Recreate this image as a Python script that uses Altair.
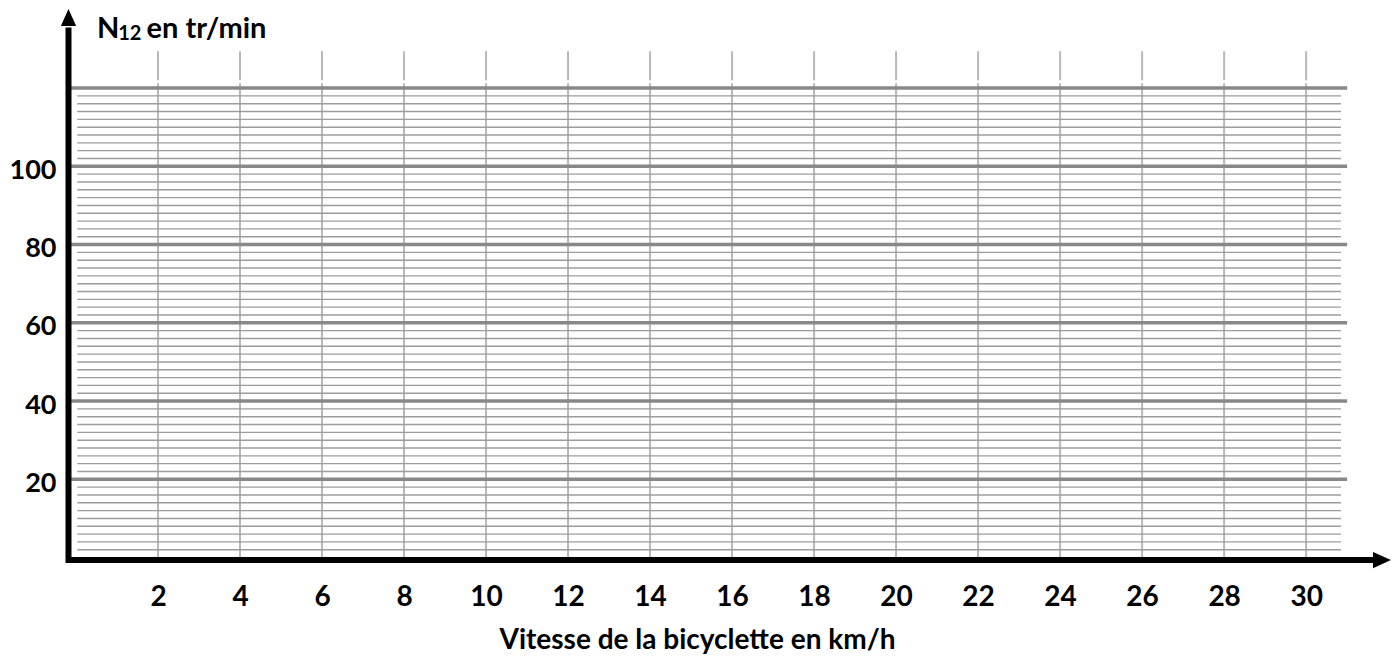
import altair as alt
import pandas as pd

# ---- data ----
X_TICKS = [2, 4, 6, 8, 10, 12, 14, 16, 18, 20, 22, 24, 26, 28, 30]
Y_LABELS = [20, 40, 60, 80, 100]
MAJOR_Y = [20, 40, 60, 80, 100, 120]
MINOR_Y = [v for v in range(2, 120, 2) if v % 20 != 0]

X_TITLE = "Vitesse de la bicyclette en km/h"
Y_TITLE_PARTS = ["N", "12", "en tr/min"]

# extents (data units)
X_DOMAIN = [-0.195, 32.07]
Y_DOMAIN = [-1.39, 140.46]
VGRID_SEGMENTS = [(0, 121.2), (122.0, 129.4)]
MINOR_X_RANGE = (0.03, 30.85)
MAJOR_X_RANGE = (-0.2, 31.0)
Y_AXIS_X = -0.183
X_AXIS_Y = -0.63
Y_AXIS_RANGE = (-1.39, 135.5)
X_AXIS_RANGE = (-0.244, 31.65)
Y_ARROW = (Y_AXIS_X, 138.03)
X_ARROW = (31.85, X_AXIS_Y)
TITLE_POS = [(0.51, 132.7, 29), (1.03, 132.2, 20), (1.72, 132.7, 29)]

FONT = "Lato"

x_scale = alt.Scale(domain=X_DOMAIN, nice=False, zero=False)
y_scale = alt.Scale(domain=Y_DOMAIN, nice=False, zero=False)

x_axis = alt.Axis(values=X_TICKS, format="d", domain=False, ticks=False, grid=False,
                  labelFont=FONT, labelFontWeight="bold", labelFontSize=28,
                  labelColor="black", labelPadding=20, labelFlush=False,
                  labelOverlap=False, labelBound=False,
                  titleFont=FONT, titleFontWeight="bold", titleFontSize=28,
                  titleColor="black", titleX=629, titleY=85,
                  titleBaseline="alphabetic", titleAlign="center")
y_axis = alt.Axis(values=Y_LABELS, format="d", domain=False, ticks=False, grid=False,
                  labelFont=FONT, labelFontWeight="bold", labelFontSize=27,
                  labelColor="black", labelPadding=12, labelBaseline="alphabetic",
                  labelOffset=12, labelOverlap=False, labelBound=False, labelFlush=False)


def X(field="x"):
    return alt.X(f"{field}:Q", scale=x_scale, axis=x_axis, title=X_TITLE)


def Y(field="y"):
    return alt.Y(f"{field}:Q", scale=y_scale, axis=y_axis, title=None)


# vertical grid
vg = pd.DataFrame([{"x": xv, "y": a, "y2": b} for xv in X_TICKS for (a, b) in VGRID_SEGMENTS])
vgrid = alt.Chart(vg).mark_rule(color="#b8b8b8", strokeWidth=2).encode(
    x=X(), y=Y(), y2="y2:Q")

# minor horizontal grid
mg = pd.DataFrame({"y": MINOR_Y, "x": MINOR_X_RANGE[0], "x2": MINOR_X_RANGE[1]})
minor = alt.Chart(mg).mark_rule(color="#9c9c9c", strokeWidth=1.4).encode(
    x=X(), x2="x2:Q", y=Y())

# major horizontal grid
Mg = pd.DataFrame({"y": MAJOR_Y, "x": MAJOR_X_RANGE[0], "x2": MAJOR_X_RANGE[1]})
major = alt.Chart(Mg).mark_rule(color="#888888", strokeWidth=3.6).encode(
    x=X(), x2="x2:Q", y=Y())

# axis lines
ax = pd.DataFrame([
    {"x": Y_AXIS_X, "x2": Y_AXIS_X, "y": Y_AXIS_RANGE[0], "y2": Y_AXIS_RANGE[1]},
    {"x": X_AXIS_RANGE[0], "x2": X_AXIS_RANGE[1], "y": X_AXIS_Y, "y2": X_AXIS_Y},
])
axes = alt.Chart(ax).mark_rule(color="black", strokeWidth=6, strokeCap="butt").encode(
    x=X(), x2="x2:Q", y=Y(), y2="y2:Q")

# arrow heads
ar = pd.DataFrame([
    {"x": Y_ARROW[0], "y": Y_ARROW[1], "shape": "M0,-1L0.9,1L-0.9,1Z", "size": 289},
    {"x": X_ARROW[0], "y": X_ARROW[1], "shape": "M1,0L-1,-0.9L-1,0.9Z", "size": 324},
])
arrows = alt.Chart(ar).mark_point(filled=True, color="black", opacity=1).encode(
    x=X(), y=Y(),
    shape=alt.Shape("shape:N", scale=None),
    size=alt.Size("size:Q", scale=None))

# y title (N with subscript 12)
td = pd.DataFrame([{"x": p[0], "y": p[1], "fs": p[2], "t": t}
                   for p, t in zip(TITLE_POS, Y_TITLE_PARTS)])
ytitle = alt.Chart(td).mark_text(align="left", baseline="alphabetic", font=FONT,
                                 fontWeight="bold", color="black").encode(
    x=X(), y=Y(), text="t:N", size=alt.Size("fs:Q", scale=None))

chart = alt.layer(vgrid, minor, major, axes, arrows, ytitle).properties(
    width=1323, height=555,
    autosize=alt.AutoSizeParams(type="none"),
    padding={"left": 60, "top": 0, "right": 0, "bottom": 92},
).configure_view(strokeWidth=0)

chart.save("out.html", embed_options={"renderer": "svg", "actions": False})
